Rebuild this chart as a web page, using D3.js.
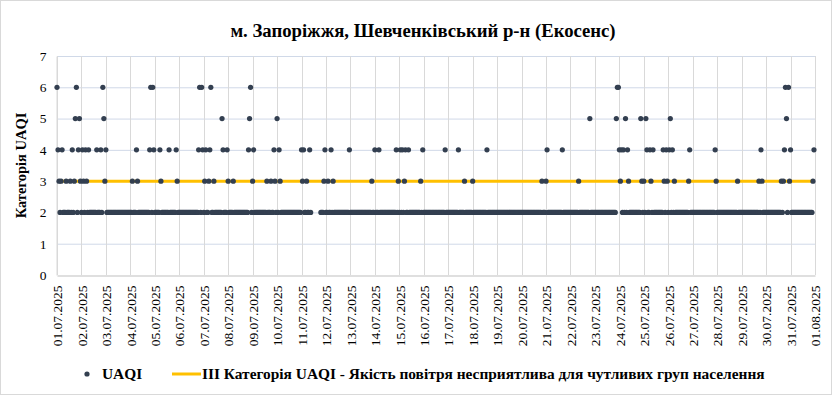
<!DOCTYPE html>
<html>
<head>
<meta charset="utf-8">
<title>UAQI - Запоріжжя</title>
<script src="https://cdn.jsdelivr.net/npm/d3@7"></script>
<style>
    body { margin: 0; background: #fff; }
    svg text { font-family: "Liberation Serif", "Times New Roman", serif; fill: #000; }
</style>
</head>
<body>
<div id="chart"></div>
<script>
    // UAQI category per hour, one string per day (00:00 .. 23:00), "-" = no data
    var uaqiByDay = [
        "643234222322232423562453", // 01.07
        "243243242222222422242653",
        "422222222222222222222222",
        "223222432222222222246264",
        "222224322222224222222432", // 05.07
        "222222222222222222246264",
        "234223462232222222542224",
        "322223222222222222224562",
        "342222222222223222322432",
        "524322222222222222222222", // 10.07
        "4342232242---------22234",
        "223224232222222222222224",
        "222222222222222222222322",
        "422242222222222222222423",
        "242423422422222222222324", // 15.07
        "222222222222222222222422",
        "222222222242222232222222",
        "322222222222224222222222",
        "222222222222222222222222",
        "222222222222222222223222", // 20.07
        "342222222222222242222222",
        "222222223222222222252222",
        "222222222222222222222566",
        "434242524322222222222532",
        "325422432422222222243243", // 25.07
        "245242322222222222223422",
        "222222222222222222222243",
        "222222222222222222223222",
        "222222222222222223243222",
        "222222222222222323465263", // 30.07
        "422222222222222222222234"
    ];
    var thresholdValue = 3;
    var yTicks = [0, 1, 2, 3, 4, 5, 6, 7];
    var startDate = new Date(Date.UTC(2025, 6, 1));
    var endDate = new Date(Date.UTC(2025, 7, 1));

    var titleText = "м. Запоріжжя, Шевченківський р-н (Екосенс)";
    var yTitle = "Категорія UAQI";
    var seriesName = "UAQI";
    var thresholdName = "ІІІ Категорія UAQI - Якість повітря несприятлива для чутливих груп населення";

    var dotColor = "#333f50";
    var lineColor = "#ffc000";

    var width = 832, height = 395;
    var margin = { top: 56, right: 17, bottom: 120, left: 57 };

    var readings = [];
    uaqiByDay.forEach(function(s, d) {
        s.split("").forEach(function(c, h) {
            if (c !== "-") readings.push({ t: new Date(Date.UTC(2025, 6, 1 + d, h)), v: +c });
        });
    });

    var svg = d3.select("#chart").append("svg")
        .attr("width", width)
        .attr("height", height);

    svg.append("rect")
        .attr("x", 0.5).attr("y", 0.5)
        .attr("width", width - 1).attr("height", height - 1)
        .attr("fill", "#fff").attr("stroke", "#d9d9d9");

    var x = d3.scaleUtc()
        .domain([startDate, endDate])
        .range([margin.left, width - margin.right]);

    var y = d3.scaleLinear()
        .domain([0, 7])
        .range([height - margin.bottom, margin.top]);

    // horizontal grid
    svg.append("g")
        .selectAll("line")
        .data(yTicks.slice(1))
        .enter().append("line")
        .attr("x1", x.range()[0]).attr("x2", x.range()[1])
        .attr("y1", function(d) { return y(d) + 0.5; })
        .attr("y2", function(d) { return y(d) + 0.5; })
        .attr("stroke", "#d0d9e8").attr("stroke-width", 1);

    // vertical grid (one per day)
    var dayTicks = d3.utcDay.range(startDate, d3.utcDay.offset(endDate, 1));
    svg.append("g")
        .selectAll("line")
        .data(dayTicks)
        .enter().append("line")
        .attr("x1", function(d) { return Math.round(x(d)) + 0.5; })
        .attr("x2", function(d) { return Math.round(x(d)) + 0.5; })
        .attr("y1", y(7)).attr("y2", y(0))
        .attr("stroke", "#d9d9d9").attr("stroke-width", 1);

    // x axis
    var xAxis = svg.append("g")
        .attr("transform", "translate(0," + (y(0) + 0.5) + ")")
        .call(d3.axisBottom(x).tickValues(dayTicks).tickFormat(d3.utcFormat("%d.%m.%Y")).tickSize(0).tickPadding(0));
    xAxis.select(".domain").attr("stroke", "#bfbfbf");
    xAxis.selectAll("text")
        .attr("transform", "rotate(-90)")
        .attr("text-anchor", "end")
        .attr("x", -10)
        .attr("y", 0)
        .attr("dy", "0.35em")
        .style("font-size", "13.5px");

    // y axis labels
    var yAxis = svg.append("g")
        .attr("transform", "translate(" + (margin.left - 0.5) + ",0)")
        .call(d3.axisLeft(y).tickValues(yTicks).tickFormat(d3.format("d")).tickSize(0).tickPadding(10));
    yAxis.select(".domain").attr("stroke", "#d9d9d9");
    yAxis.selectAll("text").style("font-size", "13.5px");

    // threshold line
    svg.append("line")
        .attr("x1", x(startDate)).attr("x2", x(d3.utcHour.offset(endDate, -1)))
        .attr("y1", y(thresholdValue)).attr("y2", y(thresholdValue))
        .attr("stroke", lineColor).attr("stroke-width", 3);

    // points
    svg.append("g")
        .selectAll("circle")
        .data(readings)
        .enter().append("circle")
        .attr("cx", function(d) { return x(d.t); })
        .attr("cy", function(d) { return y(d.v); })
        .attr("r", 2.6)
        .attr("fill", dotColor);

    // titles
    svg.append("text")
        .attr("x", 423).attr("y", 37)
        .attr("text-anchor", "middle")
        .style("font-size", "18.7px").style("font-weight", "bold")
        .text(titleText);

    svg.append("text")
        .attr("transform", "translate(26," + ((y(0) + y(7)) / 2) + ") rotate(-90)")
        .attr("text-anchor", "middle")
        .style("font-size", "14.5px").style("font-weight", "bold")
        .text(yTitle);

    // legend
    var legend = svg.append("g").attr("transform", "translate(0,374)");
    legend.append("circle").attr("cx", 87).attr("cy", 0).attr("r", 2.6).attr("fill", dotColor);
    legend.append("text").attr("x", 102).attr("y", 5)
        .style("font-size", "15.4px").style("font-weight", "bold").text(seriesName);
    legend.append("line").attr("x1", 172).attr("x2", 201).attr("y1", 0).attr("y2", 0)
        .attr("stroke", lineColor).attr("stroke-width", 3);
    legend.append("text").attr("x", 202).attr("y", 5)
        .style("font-size", "15.4px").style("font-weight", "bold").text(thresholdName);
</script>
</body>
</html>
